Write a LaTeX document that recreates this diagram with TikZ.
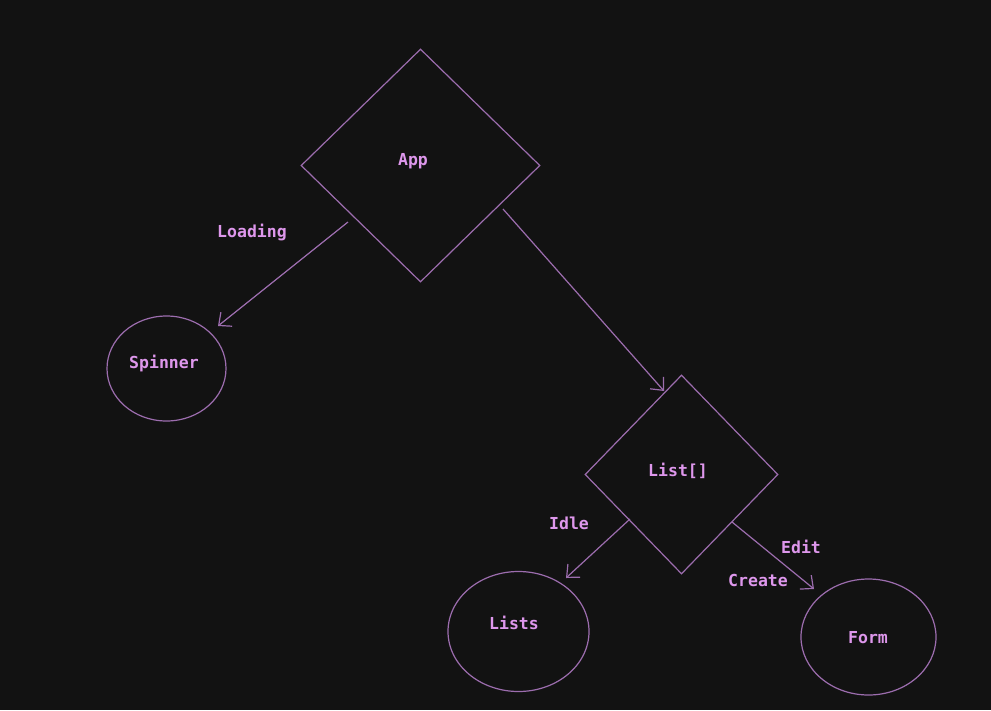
\documentclass[tikz,border=0pt]{standalone}
\usepackage{fontspec}
\setmonofont{DejaVu Sans Mono}
\usetikzlibrary{shapes.geometric,arrows.meta}
\definecolor{bg}{HTML}{121212}
\definecolor{edge}{HTML}{9C6DAE}
\definecolor{txt}{HTML}{DE97EC}
\begin{document}
\begin{tikzpicture}[x=1pt,y=-1pt,
  lbl/.style={text=txt,font=\ttfamily\bfseries\fontsize{16.5}{19}\selectfont,inner sep=0pt},
  ell/.style={draw=edge,line width=1.2pt,ellipse,inner sep=0pt},
  conn/.style={draw=edge,line width=1.2pt,-{Straight Barb[length=10pt,width=18pt]}}]
\fill[bg] (0,0) rectangle (991,710);
\useasboundingbox (0,0) rectangle (991,710);
% App diamond
\node[draw=edge,line width=1.2pt,diamond,inner sep=0pt,minimum width=239pt,minimum height=233pt] (app) at (420.5,165.5) {};
\node[lbl] (apptxt) at (413,161) {App};
% List diamond
\node[draw=edge,line width=1.2pt,diamond,inner sep=0pt,minimum width=193pt,minimum height=199pt] (list) at (681.5,474.5) {};
\node[lbl] (listtxt) at (678,471) {List[]};
% ellipses
\node[ell,minimum width=119pt,minimum height=105pt] (spin) at (166.5,368.5) {};
\node[lbl] (spintxt) at (164,364) {Spinner};
\node[ell,minimum width=141pt,minimum height=120pt] (lists) at (518.5,631.5) {};
\node[lbl] (liststxt) at (514,623) {Lists};
\node[ell,minimum width=135pt,minimum height=116pt] (form) at (868.5,637) {};
\node[lbl] (formtxt) at (868,638) {Form};
% connector endpoints
\coordinate (a1) at (348,222);
\coordinate (a2) at (218,326);
\coordinate (b1) at (503,209);
\coordinate (b2) at (664,391);
\coordinate (c1) at (630,519);
\coordinate (c2) at (566,578);
\coordinate (d1) at (732,522);
\coordinate (d2) at (814,589);
\draw[conn] (a1) -- (a2);
\draw[conn] (b1) -- (b2);
\draw[conn] (c1) -- (c2);
\draw[conn] (d1) -- (d2);
% labels
\node[lbl] (loading) at (252,232) {Loading};
\node[lbl] (idle) at (569,523) {Idle};
\node[lbl] (edit) at (801,547) {Edit};
\node[lbl] (create) at (758,580) {Create};
\end{tikzpicture}
\end{document}
